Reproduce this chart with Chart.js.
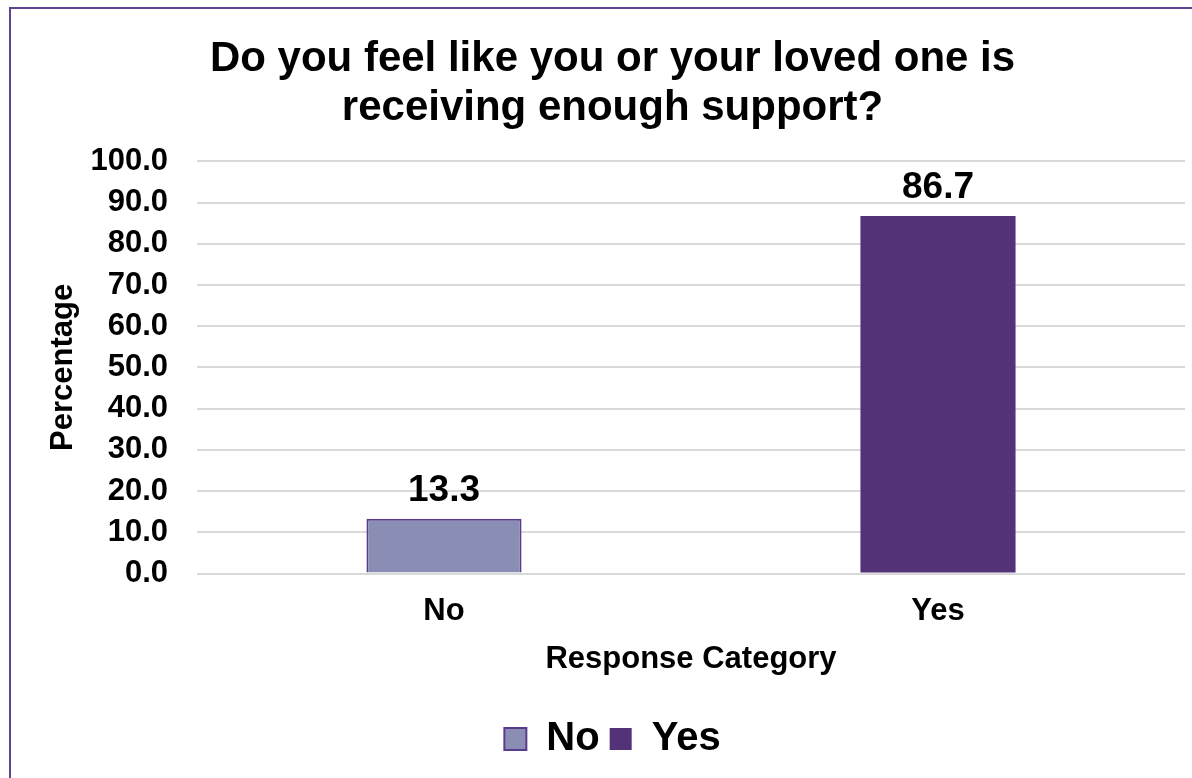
<!DOCTYPE html>
<html>
<head>
<meta charset="utf-8">
<script src="https://cdn.jsdelivr.net/npm/chart.js@4"></script>
<style>
    html, body { margin: 0; padding: 0; background: #ffffff; }
    #wrap { position: relative; width: 1192px; height: 778px; overflow: hidden; }
    #frame {
        position: absolute; left: 9px; top: 7px; width: 1300px; height: 900px;
        border: 2px solid #5e4391; box-sizing: border-box;
    }
    #chart { position: absolute; left: 0; top: 0; }
</style>
</head>
<body>
<div id="wrap">
    <div id="frame"></div>
    <canvas id="chart" width="1192" height="778"></canvas>
</div>
<script>
const categories = ['No', 'Yes'];
const percentages = [13.3, 86.7];
const barColors = ['#8a8db4', '#543278'];
const yTicks = [0, 10, 20, 30, 40, 50, 60, 70, 80, 90, 100];

const fontFamily = '"Liberation Sans", Arial, sans-serif';

// Draws the value above each bar
const valueLabels = {
    id: 'valueLabels',
    afterDatasetsDraw(chart) {
        const ctx = chart.ctx;
        ctx.save();
        ctx.font = 'bold 37px ' + fontFamily;
        ctx.fillStyle = '#000000';
        ctx.textAlign = 'center';
        ctx.textBaseline = 'alphabetic';
        chart.data.datasets.forEach((ds, i) => {
            const meta = chart.getDatasetMeta(i);
            meta.data.forEach((bar, j) => {
                const v = ds.data[j];
                if (v == null) return;
                ctx.fillText(v.toFixed(1), bar.x, bar.y - 18);
            });
        });
        ctx.restore();
    }
};

// One dataset per category so the legend shows both
const datasets = categories.map((cat, i) => ({
    label: cat,
    data: categories.map((c, j) => (j === i ? percentages[i] : null)),
    backgroundColor: barColors[i],
    borderColor: '#5a3c8c',
    borderWidth: i === 0 ? 2 : 0,
    categoryPercentage: 0.314,
    barPercentage: 1.0,
    grouped: false
}));

new Chart(document.getElementById('chart').getContext('2d'), {
    type: 'bar',
    data: { labels: categories, datasets: datasets },
    options: {
        responsive: false,
        animation: false,
        layout: { padding: { left: 40, right: 7, top: 10, bottom: 9 } },
        plugins: {
            title: {
                display: true,
                text: ['Do you feel like you or your loved one is', 'receiving enough support?'],
                color: '#000000',
                font: { family: fontFamily, size: 42, weight: 'bold', lineHeight: 1.17 },
                padding: { top: 25, bottom: 28 }
            },
            legend: {
                position: 'bottom',
                labels: {
                    color: '#000000',
                    font: { family: fontFamily, size: 40, weight: 'bold' },
                    boxWidth: 22,
                    boxHeight: 22,
                    padding: 10
                }
            },
            tooltip: { enabled: false }
        },
        scales: {
            x: {
                grid: { display: false },
                border: { display: false },
                ticks: {
                    color: '#000000',
                    font: { family: fontFamily, size: 31, weight: 'bold' },
                    padding: 11
                },
                title: {
                    display: true,
                    text: 'Response Category',
                    color: '#000000',
                    font: { family: fontFamily, size: 31, weight: 'bold' },
                    padding: { top: 0, bottom: 31 }
                }
            },
            y: {
                min: 0,
                max: 100,
                afterBuildTicks(axis) {
                    axis.ticks = yTicks.map(v => ({ value: v }));
                },
                // fixed axis width so the labels sit close to the grid
                afterFit(axis) {
                    axis.width = 157;
                },
                grid: { color: '#d9d9d9', lineWidth: 2, drawTicks: false },
                border: { display: false },
                ticks: {
                    color: '#000000',
                    font: { family: fontFamily, size: 31, weight: 'bold' },
                    padding: 29,
                    callback: v => v.toFixed(1)
                },
                title: {
                    display: true,
                    text: 'Percentage',
                    color: '#000000',
                    font: { family: fontFamily, size: 31, weight: 'bold' },
                    padding: { top: 5, bottom: 0 }
                }
            }
        }
    },
    plugins: [valueLabels]
});
</script>
</body>
</html>
